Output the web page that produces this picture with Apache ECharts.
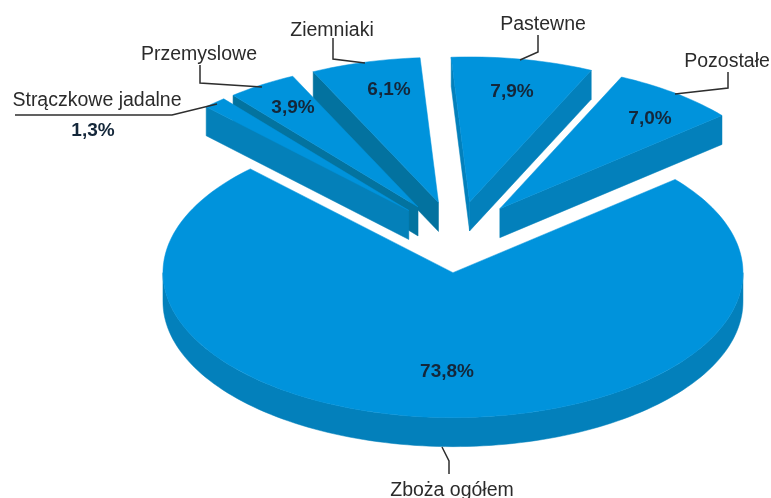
<!DOCTYPE html>
<html>
<head>
<meta charset="utf-8">
<style>html,body{margin:0;padding:0;background:#fff}#c{width:771px;height:498px}</style>
<script src="https://cdn.jsdelivr.net/npm/echarts@6/dist/echarts.min.js"></script>
</head>
<body>
<div id="c"></div>
<script>
// Data, clockwise from the start angle
var categories = ['Zboża ogółem', 'Strączkowe jadalne', 'Przemyslowe', 'Ziemniaki', 'Pastewne', 'Pozostałe'];
var shares = [73.8, 1.3, 3.9, 6.1, 7.9, 7.0];

// Projection of the pie
var START = 50.0, CX = 456.5, CY = 237, RX = 290, RY = 145, EXPLODE = 0.246, DEPTH = 29;

// Styles, per slice
var TOP = '#0093dc';
var faceColors = ['#0380bb', '#0480b9', '#03739f', '#03729f', '#0380bb', '#0380bb'];
var nameFont = '19.5px "Liberation Sans", Arial, sans-serif';
var pctFont = 'bold 19px "Liberation Sans", Arial, sans-serif';
var textColor = '#2b2b2b', pctColor = '#14273a', leaderColor = '#2e2e2e';

// Annotation layout
var nameAt = [[452, 491], [97, 101], [199, 55], [332, 31], [543, 25], [727, 62]];
var pctAt = [[447, 372], [93, 131], [293, 108], [389, 90], [512, 92], [650, 119]];
var leaders = [
  [[442, 447], [449, 461], [449, 474]],
  [[217, 104], [172, 115], [15, 115]],
  [[262, 87], [200, 83], [200, 65]],
  [[365, 63], [333, 59], [333, 38]],
  [[520, 60], [538, 52], [538, 35]],
  [[675, 94], [728, 88], [728, 72]]
];

var total = shares.reduce(function (a, b) { return a + b; }, 0);
var rad = Math.PI / 180;

function sliceAngles(i) {
  var before = 0;
  for (var k = 0; k < i; k++) before += shares[k];
  var a0 = START + before / total * 360;
  return [a0, a0 + shares[i] / total * 360];
}
function arcPts(apex, a, b, dy) {
  var n = Math.max(2, Math.ceil((b - a) / 1.5)), out = [];
  for (var j = 0; j <= n; j++) {
    var t = (a + (b - a) * j / n) * rad;
    out.push([apex[0] + RX * Math.sin(t), apex[1] - RY * Math.cos(t) + dy]);
  }
  return out;
}

function renderItem(params, api) {
  var i = params.dataIndex, ang = sliceAngles(i);
  var a0 = ang[0], a1 = ang[1], mid = (a0 + a1) / 2 * rad;
  var apex = [CX + EXPLODE * RX * Math.sin(mid), CY - EXPLODE * RY * Math.cos(mid)];
  var z = (shares.length - i) * 2;
  var kids = [];
  function poly(pts, fill) {
    kids.push({ type: 'polygon', z2: z, shape: { points: pts }, style: { fill: fill, stroke: fill, lineWidth: 0.5 } });
  }
  function radial(a) {
    var t = a * rad, p = [apex[0] + RX * Math.sin(t), apex[1] - RY * Math.cos(t)];
    poly([apex, p, [p[0], p[1] + DEPTH], [apex[0], apex[1] + DEPTH]], faceColors[i]);
  }
  if (Math.sin(a0 * rad) < 0) radial(a0);
  if (Math.sin(a1 * rad) > 0) radial(a1);
  var lo = Math.max(a0, 90), hi = Math.min(a1, 270);
  if (hi > lo) {
    poly(arcPts(apex, lo, hi, 0).concat(arcPts(apex, lo, hi, DEPTH).reverse()), faceColors[i]);
  }
  poly([apex].concat(arcPts(apex, a0, a1, 0)), TOP);
  kids.push({ type: 'polyline', z2: 40, shape: { points: leaders[i] },
    style: { stroke: leaderColor, lineWidth: 1.5, fill: null } });
  kids.push({ type: 'text', z2: 41, style: { text: categories[i], x: nameAt[i][0], y: nameAt[i][1],
    font: nameFont, fill: textColor, align: 'center', verticalAlign: 'middle' } });
  kids.push({ type: 'text', z2: 41, style: { text: api.value(0).toFixed(1).replace('.', ',') + '%',
    x: pctAt[i][0], y: pctAt[i][1], font: pctFont, fill: pctColor, align: 'center', verticalAlign: 'middle' } });
  return { type: 'group', children: kids };
}

var chart = echarts.init(document.getElementById('c'), null, { renderer: 'canvas' });
chart.setOption({
  backgroundColor: '#ffffff',
  animation: false,
  series: [{
    type: 'custom',
    coordinateSystem: 'none',
    renderItem: renderItem,
    encode: { value: 0 },
    silent: true,
    data: shares.map(function (v, i) { return [v, i]; })
  }]
});
</script>
</body>
</html>
